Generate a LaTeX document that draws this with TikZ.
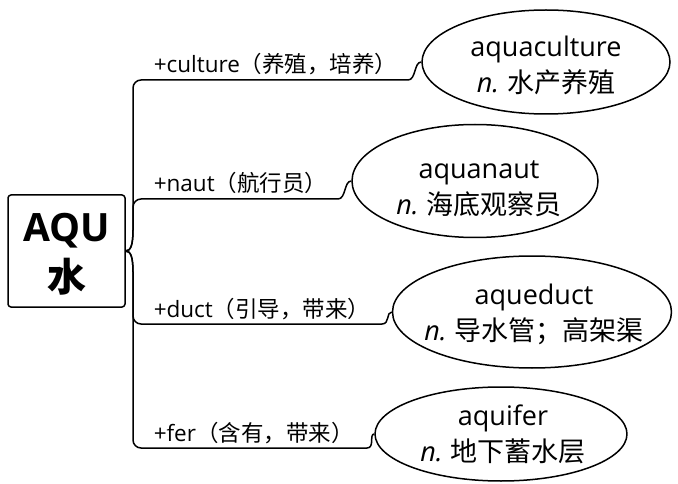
\documentclass[tikz,border=0pt]{standalone}
\usepackage{fontspec}
\setmainfont{Noto Sans CJK SC}
\newfontfamily\lat{Open Sans}
\usetikzlibrary{shapes.geometric}
\begin{document}
\begin{tikzpicture}[x=1pt,y=-1pt, line width=1.5pt, line join=round,
  leaf/.style={ellipse, draw, inner sep=0pt},
  leaftxt/.style={inner sep=0pt, font=\fontsize{27}{36}\selectfont, align=center},
  lbl/.style={anchor=base west, font=\fontsize{22.5}{26}\selectfont, inner sep=0pt},
  conn/.style={line width=1.5pt}]
\useasboundingbox (0,0) rectangle (678,484);
\node[draw, rounded corners=3pt, minimum width=117pt, minimum height=112pt, inner sep=0pt] (root) at (66.5,251) {};
\node[inner sep=0pt, align=center, font=\fontsize{39}{50}\selectfont\bfseries] (roottxt) at (66.5,254) {{\lat AQU}\\水};

\node[leaf, minimum width=248pt, minimum height=104pt] (e1) at (546,62) {};
\node[leaf, minimum width=246pt, minimum height=113pt] (e2) at (475,181) {};
\node[leaf, minimum width=279pt, minimum height=112pt] (e3) at (532,312) {};
\node[leaf, minimum width=252pt, minimum height=94pt] (e4) at (501,434) {};
\node[leaftxt] (t1) at (546,65) {{\lat aquaculture}\\{\lat\itshape n.} 水产养殖};
\node[leaftxt] (t2) at (479,189) {{\lat aquanaut}\\{\lat\itshape n.} 海底观察员};
\node[leaftxt] (t3) at (534,314) {{\lat aqueduct}\\{\lat\itshape n.} 导水管；高架渠};
\node[leaftxt] (t4) at (503,434) {{\lat aquifer}\\{\lat\itshape n.} 地下蓄水层};

\node[lbl] (l1) at (153,73) {{\lat +culture}（养殖，培养）};
\node[lbl] (l2) at (153,192) {{\lat +naut}（航行员）};
\node[lbl] (l3) at (153,317) {{\lat +duct}（引导，带来）};
\node[lbl] (l4) at (153,441) {{\lat +fer}（含有，带来）};

\draw[conn] (root.east) .. controls (131,251) and (133,244) .. (133,230) -- (133,88)
  .. controls (133,83.6) and (136.6,80) .. (141,80) -- (408,80)
  .. controls (416,80) and (414,62) .. (e1.west);
\draw[conn] (root.east) .. controls (131,251) and (133,244) .. (133,230) -- (133,207)
  .. controls (133,202.6) and (136.6,199) .. (141,199) -- (338,199)
  .. controls (346,199) and (344,181) .. (e2.west);
\draw[conn] (root.east) .. controls (131,251) and (133,258) .. (133,272) -- (133,316)
  .. controls (133,320.4) and (136.6,324) .. (141,324) -- (382,324)
  .. controls (390,324) and (386,312) .. (e3.west);
\draw[conn] (root.east) .. controls (131,251) and (133,258) .. (133,272) -- (133,440)
  .. controls (133,444.4) and (136.6,448) .. (141,448) -- (367,448)
  .. controls (375,448) and (369,434) .. (e4.west);
\end{tikzpicture}
\end{document}
